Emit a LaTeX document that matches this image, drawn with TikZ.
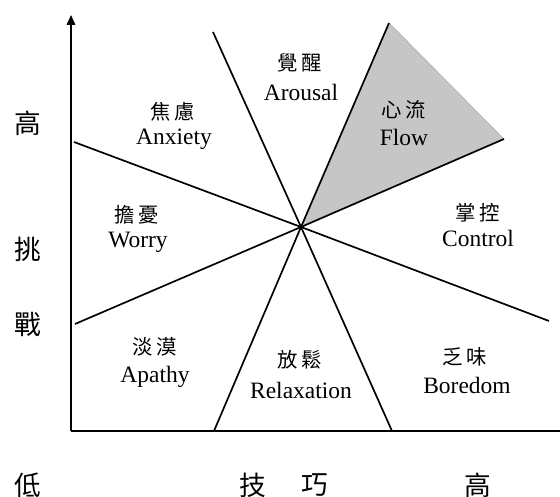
\documentclass[tikz,border=0pt]{standalone}
\usepackage{fontspec}
\setmainfont{Liberation Serif}
\newfontfamily\zh{Noto Sans CJK TC}
\usetikzlibrary{arrows.meta}

\begin{document}
\begin{tikzpicture}[
  en/.style={font=\fontsize{16.7}{20}\selectfont, inner sep=0pt},
  zhlab/.style={font=\zh\fontsize{14.5}{17}\selectfont, inner sep=0pt},
  axlab/.style={font=\zh\fontsize{19}{22}\selectfont, inner sep=0pt},
  sector/.style={line width=1.2pt}
]
\useasboundingbox (0,0) rectangle (14,12.425);

% Axes
 \coordinate (O) at (1.775,1.65);
 \coordinate (ytop) at (1.775,12.05);
 \coordinate (xend) at (14,1.65);
 \draw [line width=1.2pt, -{Triangle[width=6pt,length=7pt]}] (O) -- (ytop);
 \draw [line width=1.2pt] (O) -- (xend);

% Centre point and ends of the four lines
 \coordinate (c) at (7.525,6.75);
 \coordinate (a1) at (1.85,8.875);  \coordinate (a2) at (13.725,4.4);
 \coordinate (b1) at (1.875,4.325); \coordinate (b2) at (12.6,8.95);
 \coordinate (d1) at (5.325,11.625); \coordinate (d2) at (9.8,1.65);
 \coordinate (e1) at (9.725,11.85);  \coordinate (e2) at (5.35,1.65);

% Flow region (can be commented out)
 \fill [gray!45] (c) -- (e1) -- (b2) -- cycle;
 \draw [gray!65, line width=0.4pt] (e1) -- (b2);

 \draw [sector] (a1) -- (c) -- (a2);
 \draw [sector] (b1) -- (c) -- (b2);
 \draw [sector] (d1) -- (c) -- (d2);
 \draw [sector] (e1) -- (c) -- (e2);

% Axis labels
 \node [axlab] (yhigh) at (0.7,9.35) {高};
 \node [axlab] (ytiao) at (0.7,6.2) {挑};
 \node [axlab] (yzhan) at (0.7,4.3) {戰};
 \node [axlab] (low) at (0.7,0.3) {低};
 \node [axlab] (xji) at (6.325,0.3) {技};
 \node [axlab] (xqiao) at (7.875,0.3) {巧};
 \node [axlab] (xhigh) at (11.95,0.3) {高};

% Region labels
 \node [zhlab] (arousalzh) at (7.5,10.85) {覺\,醒};
 \node [en] (arousal) at (7.525,10.125) {Arousal};
 \node [zhlab] (anxietyzh) at (4.325,9.625) {焦\,慮};
 \node [en] (anxiety) at (4.35,8.95) {Anxiety};
 \node [zhlab] (flowzh) at (10.1,9.675) {心\,流};
 \node [en] (flow) at (10.1,9.0) {Flow};
 \node [zhlab] (worryzh) at (3.425,7.05) {擔\,憂};
 \node [en] (worry) at (3.45,6.375) {Worry};
 \node [zhlab] (controlzh) at (11.95,7.1) {掌\,控};
 \node [en] (control) at (11.95,6.475) {Control};
 \node [zhlab] (apathyzh) at (3.875,3.75) {淡\,漠};
 \node [en] (apathy) at (3.875,3.0) {Apathy};
 \node [zhlab] (relaxzh) at (7.5,3.425) {放\,鬆};
 \node [en] (relax) at (7.525,2.675) {Relaxation};
 \node [zhlab] (boredomzh) at (11.625,3.5) {乏\,味};
 \node [en] (boredom) at (11.675,2.8) {Boredom};

\end{tikzpicture}
\end{document}
